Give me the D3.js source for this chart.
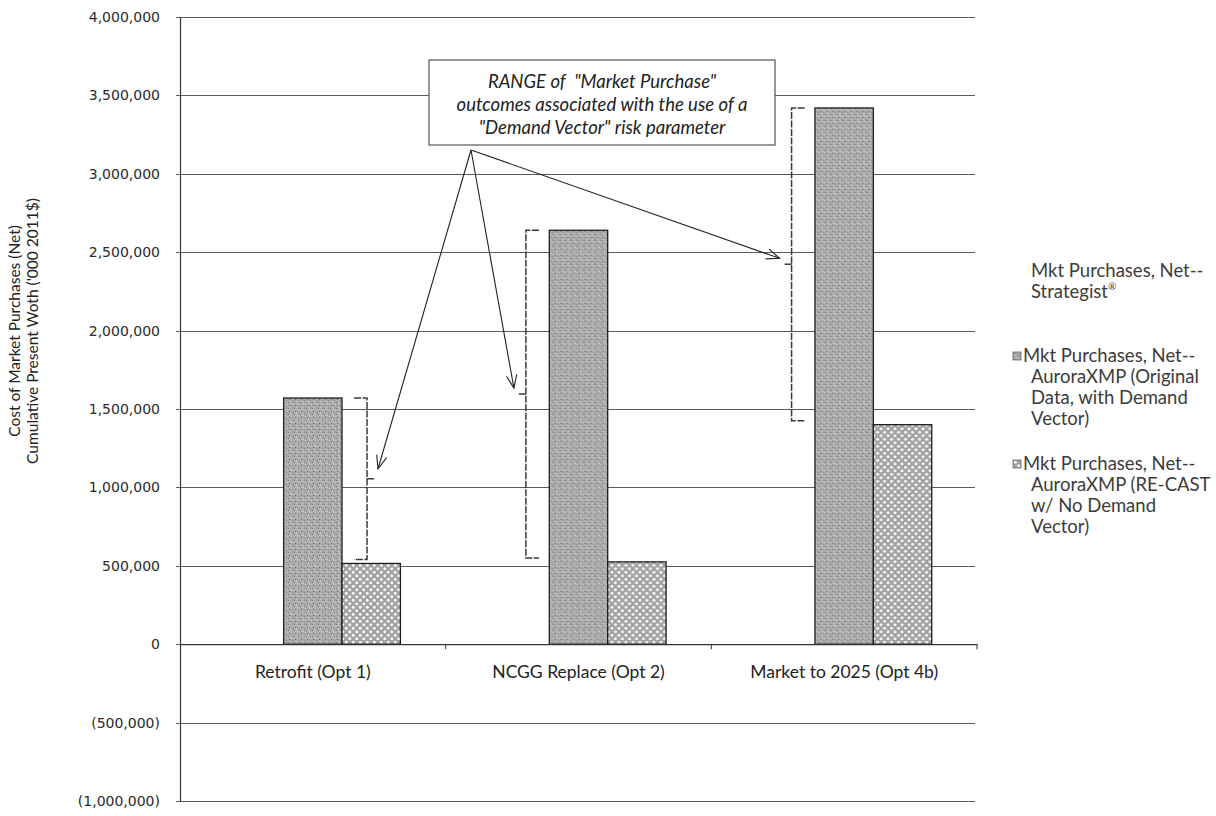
<!DOCTYPE html>
<html>
<head>
<meta charset="utf-8">
<script src="https://cdn.jsdelivr.net/npm/d3@7"></script>
<style>
  body { margin: 0; background: #ffffff; }
  svg { display: block; }
</style>
</head>
<body>
<div id="chart"></div>
<script>
// Data
const categories = ['Retrofit (Opt 1)', 'NCGG Replace (Opt 2)', 'Market to 2025 (Opt 4b)'];
const seriesKeys = ['strategist', 'auroraOriginal', 'auroraRecast'];
const strategist = [null, null, null];
const auroraOriginal = [1570000, 2640000, 3420000];
const auroraRecast = [515000, 525000, 1400000];
const yTicks = [-1000000, -500000, 0, 500000, 1000000, 1500000, 2000000, 2500000, 3000000, 3500000, 4000000];
const legendItems = [
  { key: 'strategist', lines: ['Mkt Purchases, Net--', 'Strategist'] },
  { key: 'auroraOriginal', lines: ['Mkt Purchases, Net--', 'AuroraXMP (Original', 'Data, with Demand', 'Vector)'] },
  { key: 'auroraRecast', lines: ['Mkt Purchases, Net--', 'AuroraXMP (RE-CAST', 'w/ No Demand', 'Vector)'] }
];
const noteLines = ['RANGE of\u00a0 "Market Purchase"', 'outcomes associated with the use of a', '"Demand Vector" risk parameter'];

const seriesValues = { strategist, auroraOriginal, auroraRecast };

const W = 1216, H = 816;
const plot = { left: 180, right: 977, top: 17, bottom: 801 };

const svg = d3.select('#chart').append('svg')
  .attr('width', W)
  .attr('height', H);

// Patterns for the scanned bar fills
const defs = svg.append('defs');

const speckle = defs.append('pattern')
  .attr('id', 'speckle')
  .attr('patternUnits', 'userSpaceOnUse')
  .attr('width', 6).attr('height', 6);
speckle.append('rect').attr('width', 6).attr('height', 6).attr('fill', '#ababab');
[[0, 0, '#7a7a7a'], [3, 1, '#cfcfcf'], [1, 3, '#6e6e6e'], [4, 4, '#8c8c8c'], [5, 2, '#c6c6c6'], [2, 5, '#d2d2d2'], [4, 0, '#949494'], [1, 1, '#bdbdbd']]
  .forEach(([px, py, c]) => speckle.append('rect').attr('x', px).attr('y', py).attr('width', 1).attr('height', 1).attr('fill', c));

const dots = defs.append('pattern')
  .attr('id', 'dots')
  .attr('patternUnits', 'userSpaceOnUse')
  .attr('width', 7).attr('height', 7);
dots.append('rect').attr('width', 7).attr('height', 7).attr('fill', '#a2a2a2');
dots.append('circle').attr('cx', 1.75).attr('cy', 1.75).attr('r', 1.5).attr('fill', '#f6f6f6');
dots.append('circle').attr('cx', 5.25).attr('cy', 5.25).attr('r', 1.5).attr('fill', '#f6f6f6');

const fills = { strategist: 'none', auroraOriginal: 'url(#speckle)', auroraRecast: 'url(#dots)' };

// Scales
const x0 = d3.scaleBand()
  .domain(categories)
  .range([plot.left, plot.right])
  .padding(0);

const x1 = d3.scaleBand()
  .domain(seriesKeys)
  .range([0, x0.bandwidth()])
  .paddingInner(0)
  .paddingOuter(0.775);

const y = d3.scaleLinear()
  .domain([-1000000, 4000000])
  .range([plot.bottom, plot.top]);

// Gridlines
svg.append('g')
  .selectAll('line')
  .data(yTicks)
  .join('line')
  .attr('x1', plot.left - 4)
  .attr('x2', plot.right - 2)
  .attr('y1', d => Math.round(y(d)) + 0.5)
  .attr('y2', d => Math.round(y(d)) + 0.5)
  .attr('stroke', '#5a5a5a')
  .attr('stroke-width', 1);

// Y axis
const fmt = d3.format(',');
const yAxis = d3.axisLeft(y)
  .tickValues(yTicks)
  .tickSize(0)
  .tickPadding(20)
  .tickFormat(d => d < 0 ? `(${fmt(-d)})` : fmt(d));

const yAxisG = svg.append('g')
  .attr('transform', `translate(${plot.left},0)`)
  .call(yAxis);
yAxisG.select('.domain').attr('stroke', '#333').attr('stroke-width', 1.2);
yAxisG.selectAll('text')
  .attr('font-family', 'DejaVu Sans')
  .attr('font-size', '14px')
  .attr('fill', '#2a2a2a');

// Y axis title (two lines)
const yTitle = svg.append('text')
  .attr('transform', `translate(24,${(y(4000000) + y(-1000000)) / 2 - 78}) rotate(-90)`)
  .attr('text-anchor', 'middle')
  .attr('font-family', 'Lato')
  .attr('font-size', '15.5px')
  .attr('fill', '#222');
yTitle.append('tspan').attr('x', 0).attr('dy', '-0.25em').text('Cost of Market Purchases (Net)');
yTitle.append('tspan').attr('x', 0).attr('dy', '1.15em').text("Cumulative Present Woth ('000 2011$)");

// Bars
const groups = svg.append('g')
  .selectAll('g')
  .data(categories)
  .join('g')
  .attr('transform', d => `translate(${x0(d)},0)`);

groups.selectAll('rect')
  .data((d, i) => seriesKeys
    .filter(k => seriesValues[k][i] != null)
    .map(k => ({ key: k, value: seriesValues[k][i] })))
  .join('rect')
  .attr('x', d => x1(d.key))
  .attr('width', x1.bandwidth())
  .attr('y', d => y(Math.max(0, d.value)))
  .attr('height', d => Math.abs(y(d.value) - y(0)))
  .attr('fill', d => fills[d.key])
  .attr('stroke', '#1e1e1e')
  .attr('stroke-width', 1.3);

// X axis at zero
const xAxis = d3.axisBottom(x0)
  .tickSize(0)
  .tickPadding(21);

const xAxisG = svg.append('g')
  .attr('transform', `translate(0,${y(0)})`)
  .call(xAxis);
xAxisG.select('.domain').attr('stroke', '#333').attr('stroke-width', 1.2);
xAxisG.selectAll('text')
  .attr('font-family', 'Lato')
  .attr('font-size', '17.5px')
  .attr('fill', '#222');

// Category boundary tick marks
svg.append('g')
  .selectAll('line')
  .data(categories)
  .join('line')
  .attr('x1', d => x0(d) + x0.bandwidth())
  .attr('x2', d => x0(d) + x0.bandwidth())
  .attr('y1', y(0))
  .attr('y2', y(0) + 5)
  .attr('stroke', '#333');

// Range brackets: from re-cast top to original top
const bracketSpec = [
  { side: 'right', key: 'auroraRecast', offset: 25 },
  { side: 'left', key: 'strategist', offset: 35 },
  { side: 'left', key: 'strategist', offset: 35 }
];

const brackets = categories.map((c, i) => {
  const s = bracketSpec[i];
  const bx = x0(c) + x1(s.key) + s.offset;
  const yTop = y(auroraOriginal[i]);
  const yBot = y(auroraRecast[i]) - 4;
  const dir = s.side === 'right' ? 1 : -1;
  return { bx, yTop, yBot, dir, yMid: (yTop + yBot) / 2 };
});

svg.append('g')
  .selectAll('path')
  .data(brackets)
  .join('path')
  .attr('d', b => {
    const hook = 13 * b.dir;
    return `M${b.bx - hook},${b.yTop} L${b.bx},${b.yTop} L${b.bx},${b.yBot} L${b.bx - hook},${b.yBot}` +
      ` M${b.bx},${b.yMid} L${b.bx + 7 * b.dir},${b.yMid}`;
  })
  .attr('fill', 'none')
  .attr('stroke', '#3a3a3a')
  .attr('stroke-width', 1.5)
  .attr('stroke-dasharray', '7,1.5');

// Annotation box
const note = { x: 429, y: 60, w: 346, h: 85 };
svg.append('rect')
  .attr('x', note.x)
  .attr('y', note.y)
  .attr('width', note.w)
  .attr('height', note.h)
  .attr('fill', '#fff')
  .attr('stroke', '#555')
  .attr('stroke-width', 1.2);

svg.append('g')
  .selectAll('text')
  .data(noteLines)
  .join('text')
  .attr('x', note.x + note.w / 2)
  .attr('y', (d, i) => note.y + 28 + i * 23)
  .attr('text-anchor', 'middle')
  .attr('font-family', 'Lato')
  .attr('font-style', 'italic')
  .attr('font-size', '18.5px')
  .attr('fill', '#222')
  .text(d => d);

// Arrows from the box to each bracket
const origin = { x: 471, y: 150 };
const arrowTips = brackets.map(b => ({ x: b.bx + (b.dir > 0 ? 11 : -12), y: b.yMid - (b.dir > 0 ? 10 : 6) }));

const arrows = svg.append('g')
  .attr('stroke', '#222')
  .attr('stroke-width', 1.1)
  .attr('fill', 'none');

arrowTips.forEach(t => {
  const ang = Math.atan2(t.y - origin.y, t.x - origin.x);
  const len = 14, spread = 0.38;
  arrows.append('line')
    .attr('x1', origin.x).attr('y1', origin.y)
    .attr('x2', t.x).attr('y2', t.y);
  arrows.append('path')
    .attr('d', `M${t.x - len * Math.cos(ang - spread)},${t.y - len * Math.sin(ang - spread)} L${t.x},${t.y} L${t.x - len * Math.cos(ang + spread)},${t.y - len * Math.sin(ang + spread)}`);
});

// Legend
const legendTops = [271, 356, 464];
const lineGap = 21;

legendItems.forEach((item, i) => {
  const g = svg.append('g')
    .attr('transform', `translate(1031,${legendTops[i]})`);
  const t = g.append('text')
    .attr('font-family', 'Lato')
    .attr('font-size', '18.5px')
    .attr('fill', '#3c3c3c');
  const hasSwatch = item.key !== 'strategist';
  item.lines.forEach((ln, j) => {
    t.append('tspan')
      .attr('x', hasSwatch && j === 0 ? -8 : 0)
      .attr('y', j * lineGap + 6)
      .text(ln);
  });
  if (!hasSwatch) {
    t.append('tspan')
      .attr('font-size', '10px')
      .attr('dy', '-8')
      .text('®');
  } else {
    g.append('rect')
      .attr('x', -18)
      .attr('y', -4)
      .attr('width', 8)
      .attr('height', 8)
      .attr('fill', fills[item.key])
      .attr('stroke', '#666')
      .attr('stroke-width', 0.8);
  }
});
</script>
</body>
</html>
